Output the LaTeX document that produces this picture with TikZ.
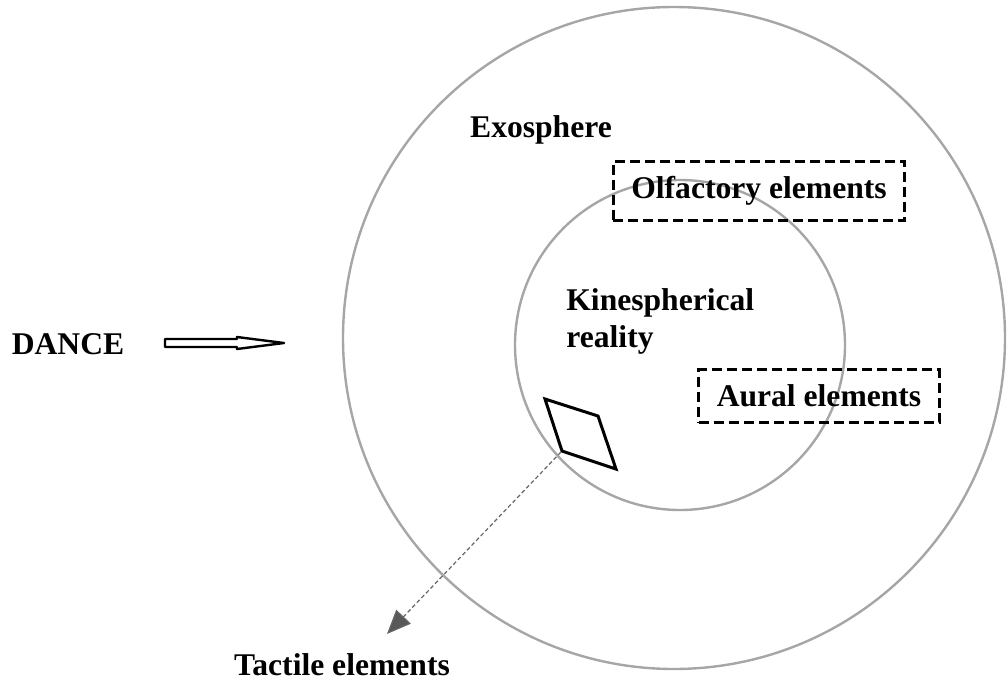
\documentclass[tikz,border=0pt]{standalone}
\usepackage{fontspec}
\setmainfont{Liberation Serif}
\usetikzlibrary{arrows.meta}
\begin{document}
\begin{tikzpicture}[x=0.5pt,y=-0.5pt,
  lbl/.style={font=\fontsize{15.8}{18.5}\selectfont\bfseries, inner sep=0pt},
  sphere/.style={draw=black!35, line width=1.2pt},
  dbox/.style={lbl, draw, dash pattern=on 5pt off 2.5pt, line width=1.4pt, inner xsep=9pt, inner ysep=7.5pt},
  tactile/.style={draw=black!60, dash pattern=on 2pt off 1.3pt, line width=0.6pt,
    -{Triangle[length=12pt,width=10pt,fill=black!65]}}]
\useasboundingbox (0,0) rectangle (1007,680);
% spheres
\draw[sphere] (674,338) circle[radius=331];
\draw[sphere] (680,345) circle[radius=165];
% labels
\node[lbl] (exo) at (541,130) {Exosphere};
\node[lbl, align=left, anchor=west] (kin) at (566,321) {Kinespherical\\reality};
\node[dbox] (olf) at (759,191) {Olfactory elements};
\node[dbox] (aur) at (819,396) {Aural elements};
\node[lbl] (dance) at (68,344) {DANCE};
\node[lbl] (tac) at (342,665) {Tactile elements};
% hollow arrow after DANCE
\draw[line width=1.2pt, line join=round]
  (165,339) -- (237,339) -- (237,337) -- (284,343) -- (237,349) -- (237,347) -- (165,347) -- cycle;
% tactile object
\draw[line width=1.5pt, line join=miter] (545,399) -- (598,416) -- (616,469) -- (562,451) -- cycle;
\coordinate (tacstart) at (561,452);
\coordinate (tactip) at (387,634);
\draw[tactile] (tacstart) -- (tactip);
\end{tikzpicture}
\end{document}
